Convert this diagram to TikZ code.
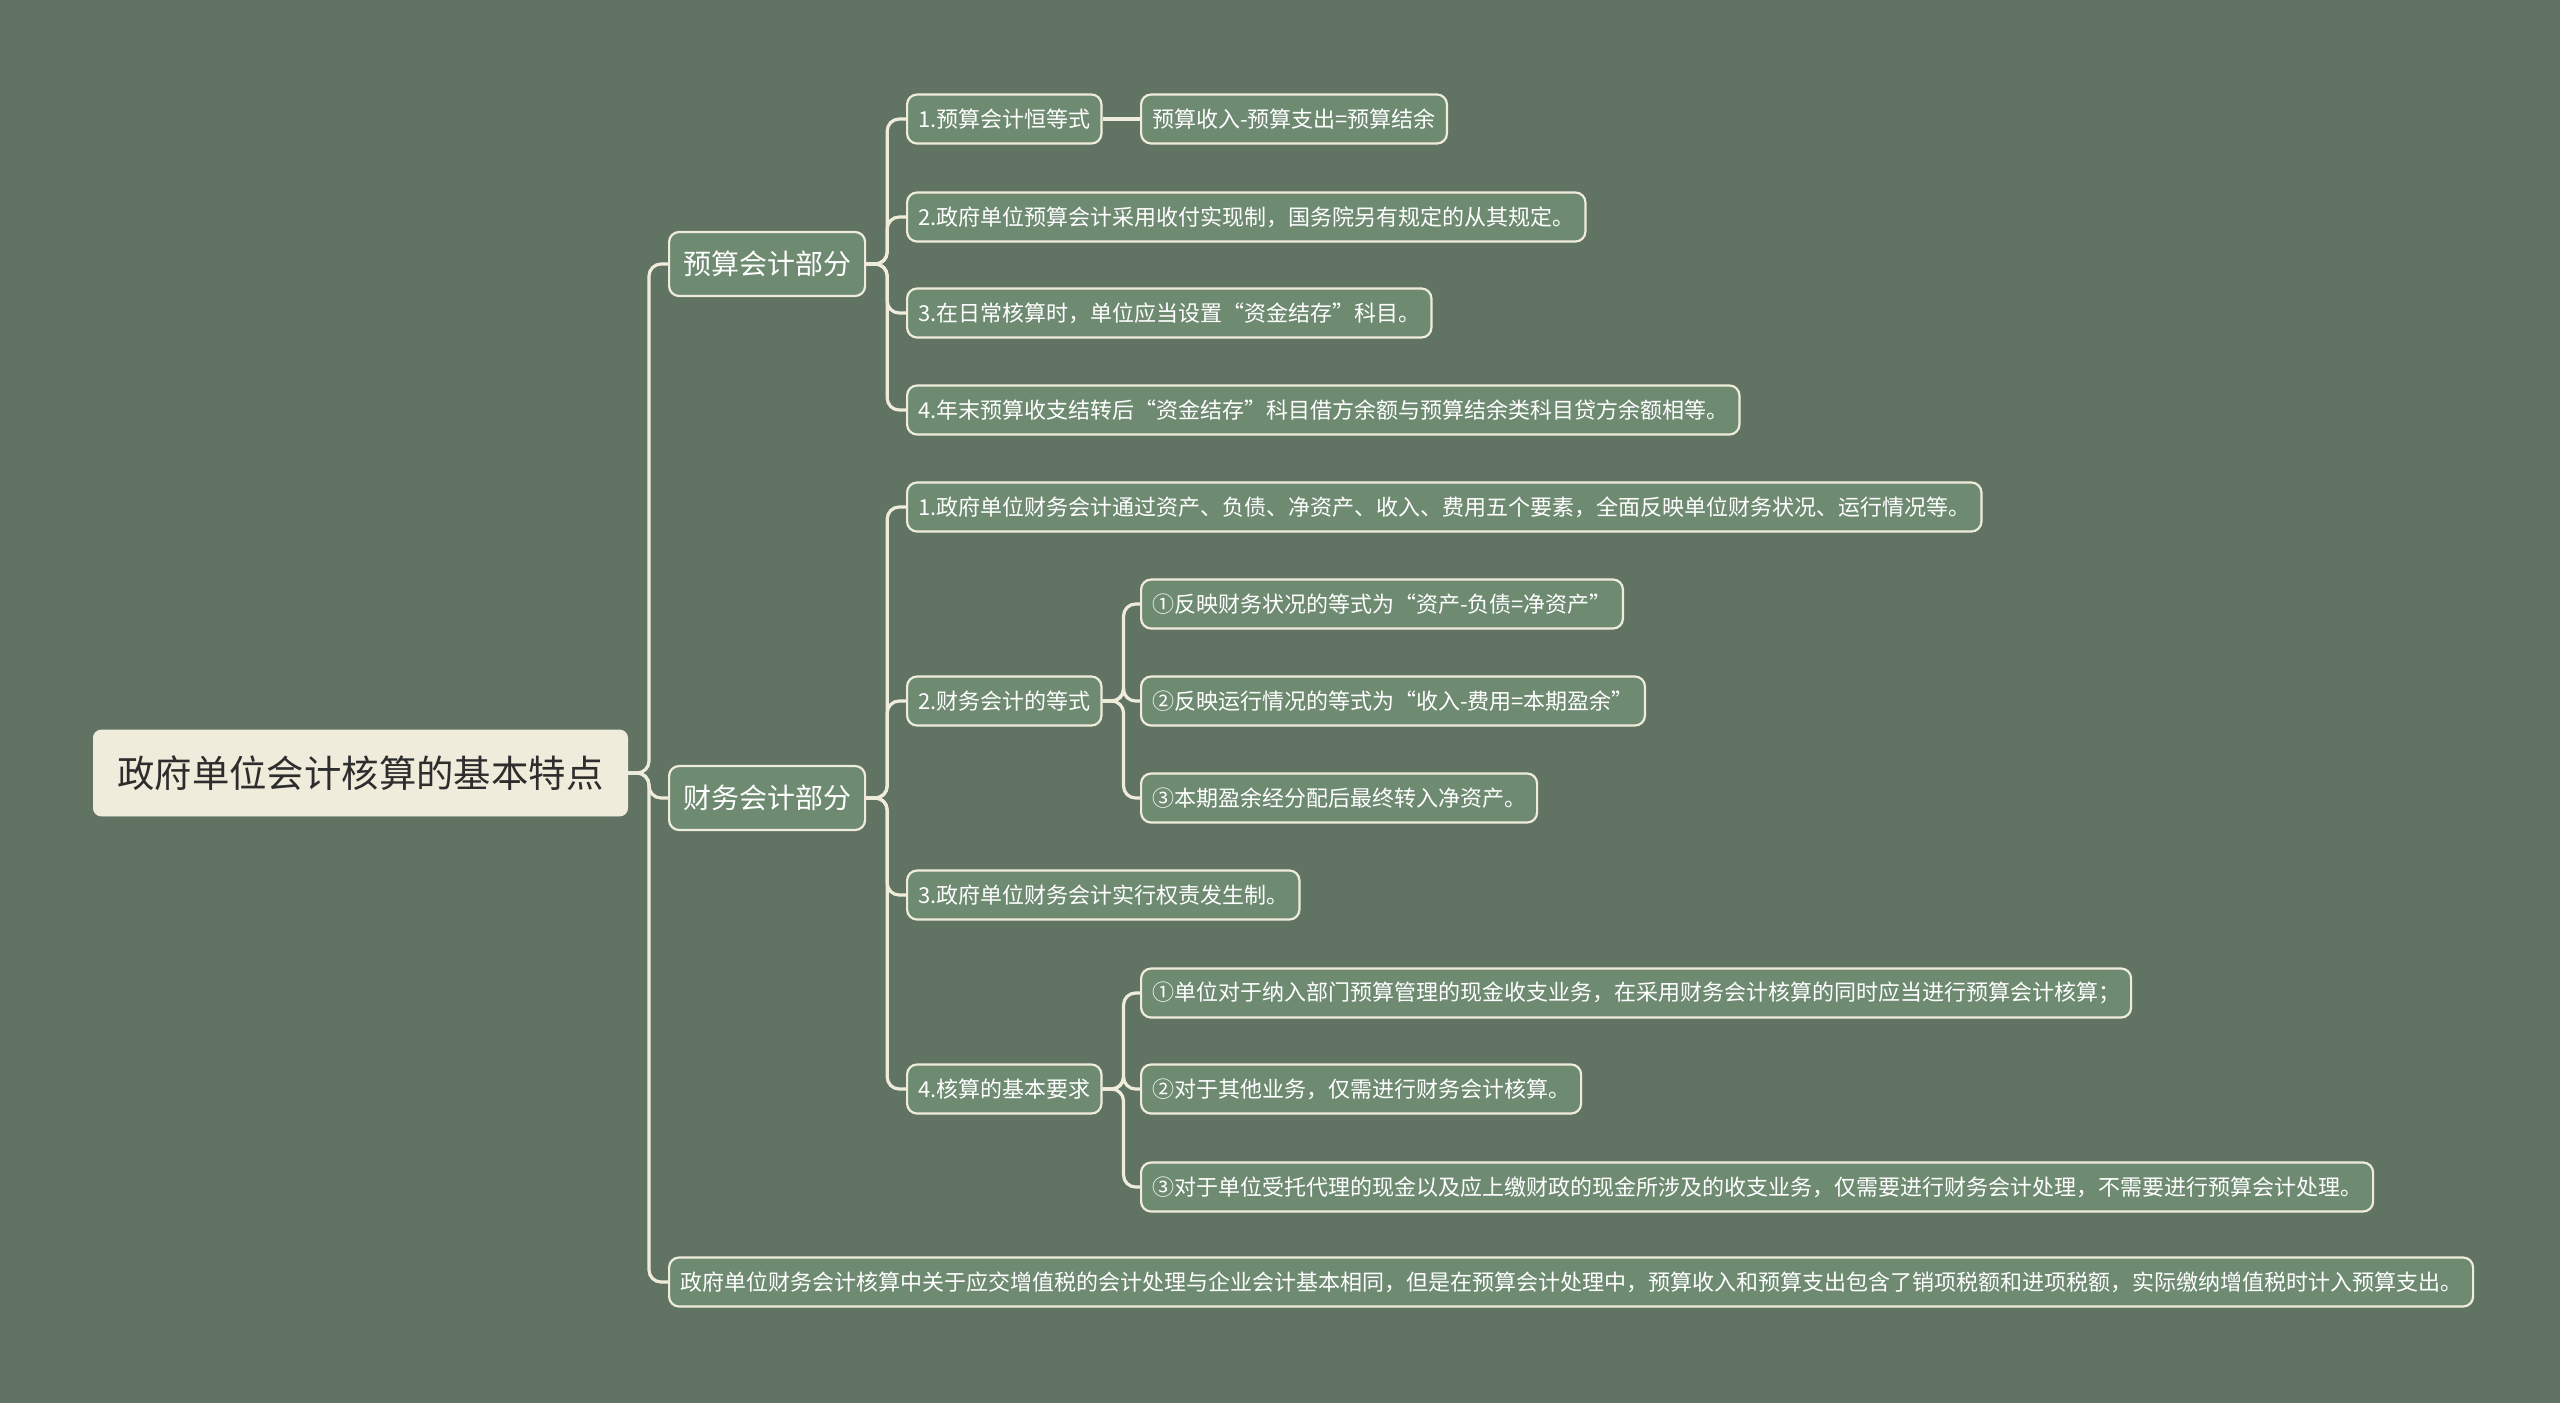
\documentclass[tikz,border=0pt]{standalone}
\usepackage{fontspec}
\newfontfamily\cjk{Noto Sans CJK SC}
\usetikzlibrary{positioning}
\definecolor{boardbg}{RGB}{97,116,99}
\definecolor{leafgreen}{RGB}{110,139,114}
\definecolor{creamline}{RGB}{240,236,219}
\definecolor{roottext}{RGB}{45,45,45}

\tikzset{
  rootbox/.style={draw=creamline, fill=creamline, rounded corners=4pt, text=roottext, anchor=west,
    font=\cjk\fontsize{18.7}{22}\selectfont, inner xsep=12pt, minimum height=43pt},
  partbox/.style={draw=creamline, fill=leafgreen, line width=1.1pt, rounded corners=5pt, text=white, anchor=west,
    font=\cjk\fontsize{14}{17}\selectfont, inner xsep=7pt, minimum height=32pt},
  itembox/.style={draw=creamline, fill=leafgreen, line width=1.1pt, rounded corners=5pt, text=white, anchor=west,
    font=\cjk\fontsize{11}{13}\selectfont, inner xsep=5.5pt, minimum height=24.5pt},
  link/.style={draw=creamline, line width=1.6pt, rounded corners=6pt},
}

\begin{document}
\begin{tikzpicture}[x=0.5pt, y=-0.5pt]
  % Board
  \fill[boardbg] (0,0) rectangle (2560,1403);
  \useasboundingbox (0,0) rectangle (2560,1403);

  % Root and parts
  \node[rootbox] (root) at (93,773) {政府单位会计核算的基本特点};
  \node[partbox] (pre) at (668,264) {预算会计部分};
  \node[partbox] (fin) at (668,798) {财务会计部分};
  \node[itembox] (vat) at (668,1282) {政府单位财务会计核算中关于应交增值税的会计处理与企业会计基本相同，但是在预算会计处理中，预算收入和预算支出包含了销项税额和进项税额，实际缴纳增值税时计入预算支出。};

  % Budget accounting
  \node[itembox] (pre1) at (906,119) {1.预算会计恒等式};
  \node[itembox] (pre1eq) at (1140,119) {预算收入-预算支出=预算结余};
  \node[itembox] (pre2) at (906,217) {2.政府单位预算会计采用收付实现制，国务院另有规定的从其规定。};
  \node[itembox] (pre3) at (906,313) {3.在日常核算时，单位应当设置“资金结存”科目。};
  \node[itembox] (pre4) at (906,410) {4.年末预算收支结转后“资金结存”科目借方余额与预算结余类科目贷方余额相等。};

  % Financial accounting
  \node[itembox] (fin1) at (906,507) {1.政府单位财务会计通过资产、负债、净资产、收入、费用五个要素，全面反映单位财务状况、运行情况等。};
  \node[itembox] (fin2) at (906,701) {2.财务会计的等式};
  \node[itembox] (fin2a) at (1140,604) {①反映财务状况的等式为“资产-负债=净资产”};
  \node[itembox] (fin2b) at (1140,701) {②反映运行情况的等式为“收入-费用=本期盈余”};
  \node[itembox] (fin2c) at (1140,798) {③本期盈余经分配后最终转入净资产。};
  \node[itembox] (fin3) at (906,895) {3.政府单位财务会计实行权责发生制。};
  \node[itembox] (fin4) at (906,1089) {4.核算的基本要求};
  \node[itembox] (fin4a) at (1140,993) {①单位对于纳入部门预算管理的现金收支业务，在采用财务会计核算的同时应当进行预算会计核算；};
  \node[itembox] (fin4b) at (1140,1089) {②对于其他业务，仅需进行财务会计核算。};
  \node[itembox] (fin4c) at (1140,1187) {③对于单位受托代理的现金以及应上缴财政的现金所涉及的收支业务，仅需要进行财务会计处理，不需要进行预算会计处理。};

  % Connectors
  \foreach \kid in {pre, fin, vat}
    \draw[link] (root.east) -- ++(10.5pt,0) |- (\kid.west);
  \foreach \kid in {pre1, pre2, pre3, pre4}
    \draw[link] (pre.east) -- ++(10.5pt,0) |- (\kid.west);
  \foreach \kid in {fin1, fin2, fin3, fin4}
    \draw[link] (fin.east) -- ++(10.5pt,0) |- (\kid.west);
  \foreach \kid in {fin2a, fin2b, fin2c}
    \draw[link] (fin2.east) -- ++(10.5pt,0) |- (\kid.west);
  \foreach \kid in {fin4a, fin4b, fin4c}
    \draw[link] (fin4.east) -- ++(10.5pt,0) |- (\kid.west);
  \draw[link] (pre1.east) -- (pre1eq.west);
\end{tikzpicture}
\end{document}
